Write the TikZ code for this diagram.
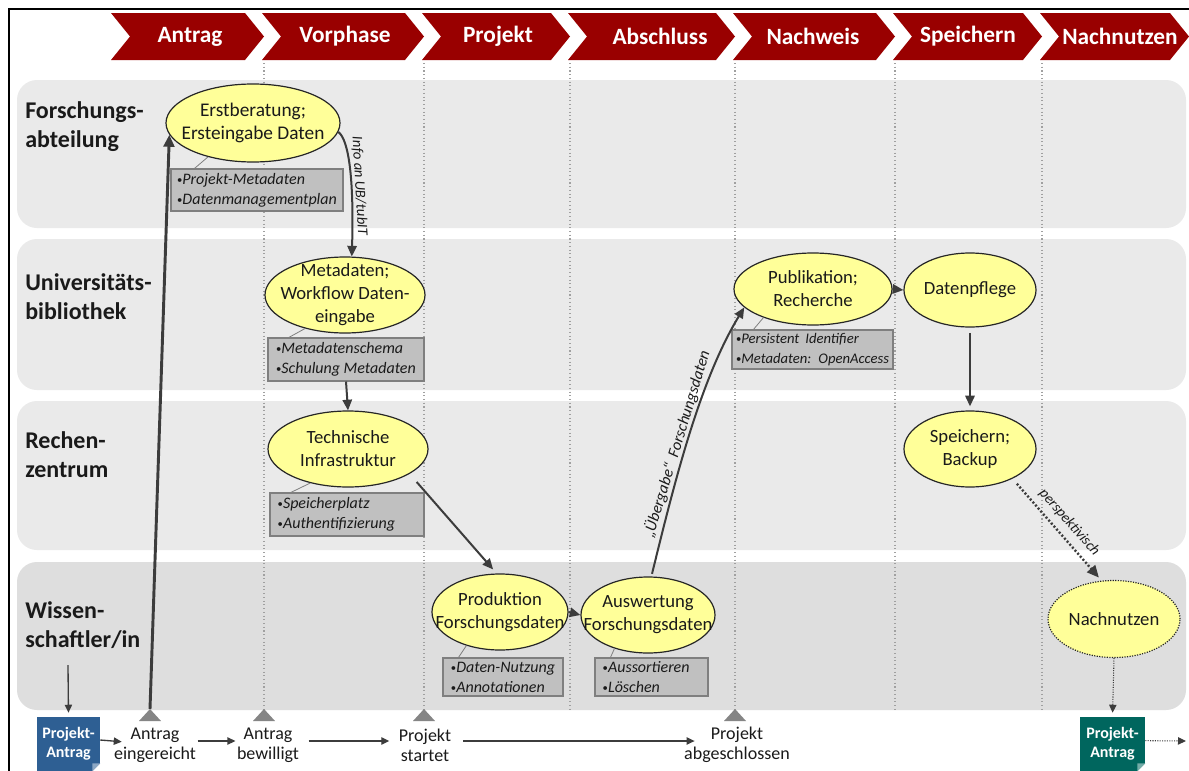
\documentclass[tikz,border=0pt]{standalone}
\usepackage{fontspec}
\setmainfont{Carlito}
\usetikzlibrary{shapes.geometric,arrows.meta,calc}
\definecolor{chev}{HTML}{990000}
\definecolor{laneA}{HTML}{EAEAEA}
\definecolor{laneB}{HTML}{DEDEDE}
\definecolor{ellfill}{HTML}{FFFF99}
\definecolor{ellline}{HTML}{262626}
\definecolor{notefill}{HTML}{C0C0C0}
\definecolor{notedraw}{HTML}{7F7F7F}
\definecolor{arrowc}{HTML}{3C3C3C}
\definecolor{blueb}{HTML}{2E5F93}
\definecolor{tealb}{HTML}{00665E}
\definecolor{trig}{HTML}{858585}
\definecolor{sepc}{HTML}{A0A0A0}
\definecolor{txt}{HTML}{1A1A1A}
\newcommand{\bul}{\raisebox{0.12ex}{\fontsize{8}{8}\selectfont\upshape•}}
\begin{document}
\begin{tikzpicture}[x=0.75pt,y=-0.75pt,
  lanelabel/.style={anchor=west, align=left, inner sep=0pt, text=txt, font=\fontsize{18}{21.75}\selectfont\bfseries},
  chevtext/.style={inner sep=0pt, text=white, font=\fontsize{17.5}{20}\selectfont\bfseries},
  ell/.style={ellipse, draw=ellline, line width=0.9pt, fill=ellfill, inner sep=0pt},
  etext/.style={inner sep=0pt, align=center, text=txt, font=\fontsize{14}{17.25}\selectfont},
  note/.style={rectangle, draw=notedraw, line width=0.8pt, fill=notefill, minimum width=#1, align=left, inner xsep=3pt, inner ysep=1pt, text=txt, font=\fontsize{12}{15}\selectfont\itshape},
  notelink/.style={draw=notedraw, line width=0.6pt},
  arr/.style={draw=arrowc, line width=1.5pt, -{Triangle[length=8pt,width=7pt]}},
  bigarr/.style={draw=arrowc, line width=2.2pt, -{Triangle[length=9pt,width=8pt]}},
  dotarr/.style={draw=arrowc, line width=1.8pt, dash pattern=on 1.5pt off 1.5pt, -{Triangle[length=9pt,width=8pt]}},
  thinarr/.style={draw=arrowc, line width=1pt, -{Triangle[length=6pt,width=5.5pt]}},
  thindot/.style={draw=arrowc, line width=0.8pt, densely dotted, -{Triangle[length=6pt,width=5.5pt]}},
  lbl/.style={inner sep=1pt, text=txt, font=\fontsize{11}{13}\selectfont\itshape},
  lblb/.style={inner sep=0.5pt, text=txt, font=\fontsize{12}{14}\selectfont\itshape},
  tl/.style={inner sep=1pt, align=center, text=txt, font=\fontsize{13.5}{15}\selectfont},
  pbox/.style={rectangle, inner sep=0pt, minimum width=47.25pt, minimum height=40.5pt, align=center, text=white, font=\fontsize{12}{14.25}\selectfont\bfseries},
  colsep/.style={draw=sepc, line width=0.8pt, dotted}
]
\useasboundingbox (0,0) rectangle (1189,771);
\fill[white] (0,0) rectangle (1189,771);

% swimlanes
\fill[laneA, rounded corners=15pt] (17,80) rectangle (1186,228);
\fill[laneA, rounded corners=15pt] (17,239) rectangle (1186,390);
\fill[laneA, rounded corners=15pt] (17,401) rectangle (1186,550);
\fill[laneB, rounded corners=15pt] (17,562) rectangle (1186,710);

% column separators
\foreach \x in {264,424,570,735,895,1042}
  \draw[colsep] (\x,63) -- (\x,712);

% phase chevrons
\foreach \L/\R/\t/\tx [count=\i] in {111/264/Antrag/190, 262/424/Vorphase/345, 422/570/Projekt/498, 568/735/Abschluss/660, 733/895/Nachweis/813, 893/1042/Speichern/968, 1040/1189/Nachnutzen/1120}{
  \fill[chev] (\L,13) -- ({\R-19},13) -- (\R,36.5) -- ({\R-19},60) -- (\L,60) -- ({\L+19},36.5) -- cycle;
  \node[chevtext] (ph\i) at (\tx,36.5) {\t};
}

% frame
\draw[black, line width=1.1pt] (9,771) -- (9,9) -- (1189,9);

% lane labels
\node[lanelabel] (lab1) at (25,127) {Forschungs-\\abteilung};
\node[lanelabel] (lab2) at (25,297) {Universitäts-\\bibliothek};
\node[lanelabel] (lab3) at (25,455) {Rechen-\\zentrum};
\node[lanelabel] (lab4) at (25,625) {Wissen-\\schaftler/in};

% timeline anchors
\coordinate (t1) at (150,709);
\coordinate (t2) at (264,709);
\coordinate (t3) at (424,709);
\coordinate (t4) at (735,709);

% ellipses
\node[ell, minimum width=130.5pt, minimum height=58.5pt, label={[etext, font=\fontsize{14.5}{17.25}\selectfont]center:{Erstberatung;\\Ersteingabe Daten}}] (erst) at (253,123) {};
\node[ell, minimum width=120pt, minimum height=57pt, label={[etext]center:{Metadaten;\\Workflow Daten-\\eingabe}}] (meta) at (345,295) {};
\node[ell, minimum width=120pt, minimum height=57pt, label={[etext]center:{Technische\\Infrastruktur}}] (tech) at (348,449) {};
\node[ell, minimum width=102pt, minimum height=57pt, label={[etext]center:{Produktion\\Forschungsdaten}}] (prod) at (500,612) {};
\node[ell, minimum width=100.5pt, minimum height=57pt, label={[etext]center:{Auswertung\\Forschungsdaten}}] (ausw) at (648,615) {};
\node[ell, minimum width=118.5pt, minimum height=54pt, label={[etext]center:{Publikation;\\Recherche}}] (pub) at (813,289) {};
\node[ell, minimum width=99pt, minimum height=55.5pt, label={[etext]center:{Datenpflege}}] (dat) at (970,290) {};
\node[ell, minimum width=99pt, minimum height=57pt, label={[etext]center:{Speichern;\\Backup}}] (spei) at (970,449) {};
\node[ell, densely dotted, minimum width=99pt, minimum height=57.75pt, label={[etext]center:{Nachnutzen}}] (nach) at (1114,619) {};

% note boxes
\node[note=129pt, minimum height=31.5pt] (n1) at (257,190) {\bul Projekt-Metadaten\\\bul Datenmanagementplan};
\node[note=117pt, minimum height=32.25pt] (n2) at (346,359.5) {\bul Metadatenschema\\\bul Schulung Metadaten};
\node[note=115.5pt, minimum height=32.25pt] (n3) at (347,514.5) {\bul Speicherplatz\hspace{35pt}\null\\\bul Authentifizierung};
\node[note=90pt, minimum height=28.5pt] (n4) at (503,677) {\bul Daten-Nutzung\\\bul Annotationen};
\node[note=84.75pt, minimum height=28.5pt] (n5) at (651.5,677) {\bul Aussortieren\hspace{8pt}\null\\\bul Löschen};
\node[note=119.25pt, minimum height=29.25pt, font=\fontsize{11}{14.5}\selectfont\itshape] (n6) at (812.5,349.5) {\bul Persistent\hspace{2pt} Identifier\\\bul Metadaten:\hspace{2pt} OpenAccess};

\draw[notelink] ([xshift=18pt]n1.north west) -- (erst.217);
\draw[notelink] ([xshift=16pt]n2.north west) -- (meta.220);
\draw[notelink] ([xshift=16pt]n3.north west) -- (tech.222);
\draw[notelink] ([xshift=12pt]n4.north west) -- (prod.225);
\draw[notelink] ([xshift=12pt]n5.north west) -- (ausw.225);
\draw[notelink] ([xshift=16.5pt]n6.north west) -- (pub.210);

% process arrows
\draw[bigarr] (t1) -- (erst.188);
\draw[arr] (erst.-6) .. controls (349,140) and (354,180) .. node[lbl, pos=0.63, sloped, above] {Info an UB/tubIT} (meta.80);
\draw[arr] (n2.south) -- (tech.north);
\draw[arr, shorten <=8pt, shorten >=4pt] (tech.-22) -- (prod.95);
\draw[arr] (prod.east) -- (ausw.west);
\draw[arr, shorten <=2pt] (ausw.85) .. controls (675,480) and (700,380) .. node[lblb, pos=0.45, sloped, above] {„Übergabe“\hspace{3pt} Forschungsdaten} (pub.195);
\draw[arr] (pub.east) -- (dat.west);
\draw[arr, shorten <=4pt, shorten >=3pt] (dat.south) -- (spei.north);
\draw[dotarr, shorten <=5pt, shorten >=3pt] (spei.-35) -- node[lbl, pos=0.52, sloped, above=4pt] {perspektivisch} (nach.108);

% timeline markers
\foreach \x in {150,264,424,735}
  \fill[trig] (\x,709) -- ({\x+11},721) -- ({\x-11},721) -- cycle;

% project application boxes
\node[pbox, fill=blueb] (pa1) at (68.5,744) {Projekt-\\Antrag};
\fill[white] ([xshift=-6pt]pa1.south east) -- (pa1.south east) -- ([yshift=6pt]pa1.south east) -- cycle;
\fill[blueb!55!white] ([xshift=-6pt]pa1.south east) -- ([yshift=6pt]pa1.south east) -- ([xshift=-6pt,yshift=6pt]pa1.south east) -- cycle;
\node[pbox, fill=tealb, minimum width=48.75pt] (pa2) at (1112.5,744) {Projekt-\\Antrag};
\fill[white] ([xshift=-6pt]pa2.south east) -- (pa2.south east) -- ([yshift=6pt]pa2.south east) -- cycle;
\fill[tealb!55!white] ([xshift=-6pt]pa2.south east) -- ([yshift=6pt]pa2.south east) -- ([xshift=-6pt,yshift=6pt]pa2.south east) -- cycle;

% timeline labels
\node[tl] (ein) at (155,745) {Antrag\\eingereicht};
\node[tl] (bew) at (268,745) {Antrag\\bewilligt};
\node[tl] (sta) at (425,745) {Projekt\\startet};
\node[tl] (abg) at (737,745) {Projekt\\abgeschlossen};

\coordinate (lstart) at (68,665);
\coordinate (rend) at (1186,741);
\draw[thinarr, shorten >=3pt] (lstart) -- (pa1.north);
\draw[thindot, shorten >=3pt] (nach.south) -- (pa2.north);
\draw[thindot] ([yshift=2.5pt]pa2.east) -- (rend);

\draw[thinarr, shorten >=-7pt] ([yshift=3pt]pa1.east) -- ([yshift=3pt]ein.west);
\draw[thinarr] ([yshift=3pt]ein.east) -- ([yshift=3pt]bew.west);
\draw[thinarr, shorten <=6pt, shorten >=6pt] ([yshift=3pt]bew.east) -- ([yshift=3pt]sta.west);
\draw[thinarr, shorten <=8pt, shorten >=-9pt] ([yshift=3pt]sta.east) -- ([yshift=3pt]abg.west);
\end{tikzpicture}
\end{document}
